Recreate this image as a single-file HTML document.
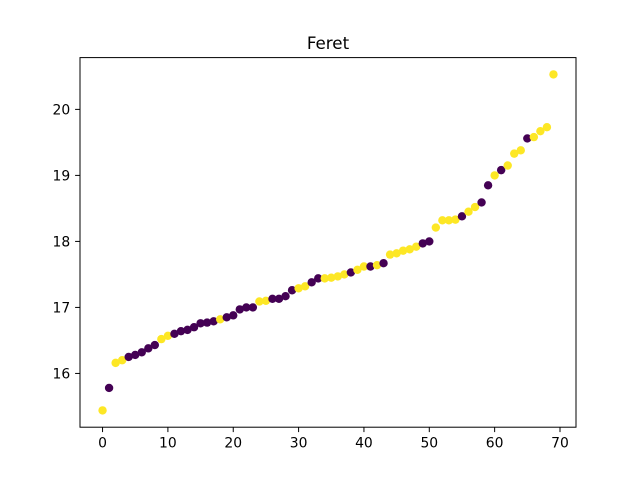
<!DOCTYPE html>
<html><head><meta charset="utf-8"><style>
html,body{margin:0;padding:0;background:#fff;}
svg text{font-family:"DejaVu Sans","Liberation Sans",sans-serif;}
</style></head><body>
<svg id="chart" width="640" height="480" viewBox="0 0 640 480" xmlns="http://www.w3.org/2000/svg">
<rect width="640" height="480" fill="#fff"/>
<text x="328" y="49" font-size="16.7" text-anchor="middle" fill="#000">Feret</text>
<g id="marks"></g>
<rect x="80" y="57.6" width="496" height="369.6" fill="none" stroke="#000" stroke-width="1"/>
<g id="axes"></g>
</svg>
<script>
const yValues=[15.44,15.78,16.16,16.2,16.25,16.28,16.32,16.38,16.43,16.52,16.57,16.6,16.64,16.66,16.7,16.76,16.77,16.79,16.82,16.85,16.88,16.97,17.0,17.0,17.09,17.1,17.13,17.13,17.17,17.26,17.29,17.32,17.38,17.44,17.44,17.45,17.47,17.5,17.53,17.57,17.62,17.62,17.64,17.67,17.8,17.82,17.86,17.88,17.92,17.97,18.0,18.21,18.32,18.32,18.33,18.38,18.45,18.52,18.59,18.85,19.0,19.08,19.15,19.33,19.38,19.56,19.58,19.67,19.73,20.53];
const classes=[1,0,1,1,0,0,0,0,0,1,1,0,0,0,0,0,0,0,1,0,0,0,0,0,1,1,0,0,0,0,1,1,0,0,1,1,1,1,0,1,1,0,1,0,1,1,1,1,1,0,0,1,1,1,1,0,1,1,0,0,1,0,1,1,1,0,1,1,1,1];
const xTicks=[0,10,20,30,40,50,60,70];
const yTicks=[16,17,18,19,20];
const NS="http://www.w3.org/2000/svg";
const L=80,R=576,T=57.6,B=427.2;
const n=yValues.length;
const xmin=0,xmax=n-1,xpad=(xmax-xmin)*0.05;
const ymin=Math.min(...yValues),ymax=Math.max(...yValues),ypad=(ymax-ymin)*0.05;
const xs=v=>L+(v-(xmin-xpad))/((xmax+xpad)-(xmin-xpad))*(R-L);
const ys=v=>B-(v-(ymin-ypad))/((ymax+ypad)-(ymin-ypad))*(B-T);
const colors=["#440154","#fde725"];
const marks=document.getElementById('marks');
yValues.forEach((v,i)=>{
  const c=document.createElementNS(NS,'circle');
  c.setAttribute('cx',xs(i));c.setAttribute('cy',ys(v));c.setAttribute('r',4.2);
  c.setAttribute('fill',colors[classes[i]]);
  
  
  marks.appendChild(c);
});
const axes=document.getElementById('axes');
xTicks.forEach(t=>{
  const x=xs(t);
  const l=document.createElementNS(NS,'line');
  l.setAttribute('x1',x);l.setAttribute('x2',x);l.setAttribute('y1',B);l.setAttribute('y2',B+4.9);l.setAttribute('stroke','#000');l.setAttribute('stroke-width','1');
  
  
  axes.appendChild(l);
  const tx=document.createElementNS(NS,'text');
  tx.setAttribute('x',x);tx.setAttribute('y',B+20.5);tx.setAttribute('font-size','13.9');tx.setAttribute('text-anchor','middle');
  tx.textContent=t;
  
  
  axes.appendChild(tx);
});
yTicks.forEach(t=>{
  const y=ys(t);
  const l=document.createElementNS(NS,'line');
  l.setAttribute('x1',L-4.9);l.setAttribute('x2',L);l.setAttribute('y1',y);l.setAttribute('y2',y);l.setAttribute('stroke','#000');l.setAttribute('stroke-width','1');
  
  
  axes.appendChild(l);
  const tx=document.createElementNS(NS,'text');
  tx.setAttribute('x',L-9.8);tx.setAttribute('y',y+5);tx.setAttribute('font-size','13.9');tx.setAttribute('text-anchor','end');
  tx.textContent=t;
  
  
  axes.appendChild(tx);
});
</script>
</body></html>
